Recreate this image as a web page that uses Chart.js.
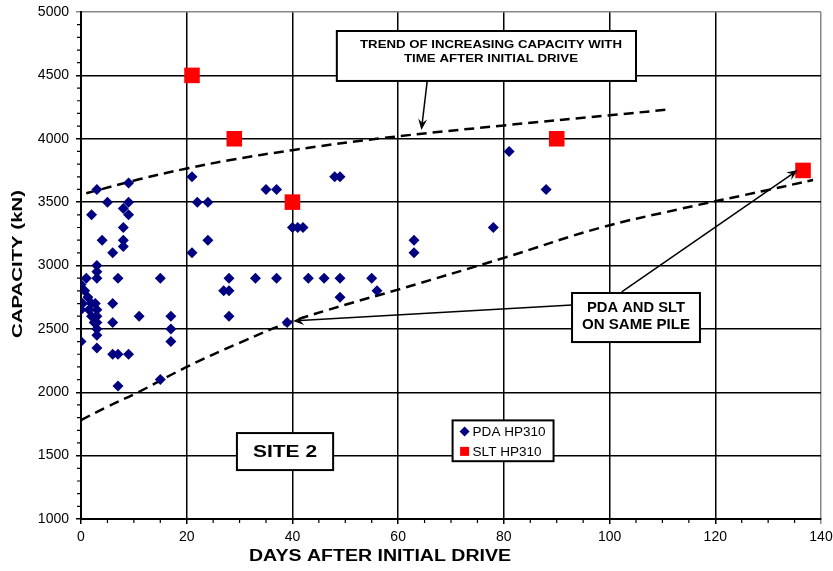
<!DOCTYPE html>
<html>
<head>
<meta charset="utf-8">
<script src="https://cdn.jsdelivr.net/npm/chart.js@4.4.0/dist/chart.umd.min.js"></script>
<style>
  html, body { margin: 0; padding: 0; background: #fff; }
</style>
</head>
<body>
<canvas id="capChart" width="833" height="571"></canvas>
<script>
// PDA HP310 points (days, kN)
const pdaDays = [0, 0, 0, 0.3, 0.7, 1, 1.3, 1.5, 2, 2, 2, 2.5, 2.7, 3, 3, 3, 3, 3, 3, 3, 3, 3, 3,
  4, 5, 6, 6, 6, 6, 7, 7, 7, 8, 8, 8, 8, 9, 9, 9, 9, 11, 15, 15, 17, 17, 17,
  21, 21, 22, 24, 24, 27, 28, 28, 28, 33, 35, 37, 37, 39, 40, 41, 42, 43, 46,
  48, 49, 49, 49, 55, 56, 63, 63, 78, 81, 88];
const pdaCapacity = [2400, 2650, 2850, 2700, 2800, 2900, 2750, 2650, 2700, 2600, 3400, 2550, 2700,
  2350, 2450, 2500, 2550, 2600, 2650, 2900, 2950, 3000, 3600,
  3200, 3500, 2300, 2550, 2700, 3100, 2050, 2300, 2900, 3150, 3200, 3300, 3450, 2300, 3400, 3500, 3650,
  2600, 2100, 2900, 2400, 2500, 2600,
  3100, 3700, 3500, 3200, 3500, 2800, 2600, 2800, 2900, 2900, 3600, 2900, 3600, 2550, 3300, 3300, 3300,
  2900, 2900, 3700, 2750, 2900, 3700, 2900, 2800, 3100, 3200, 3300, 3900, 3600];

// SLT HP310 points
const sltDays = [21, 29, 40, 90, 136.6];
const sltCapacity = [4500, 4000, 3500, 4000, 3750];

// dashed trend curves
const upperDays = [1, 11, 20, 28, 40, 57, 80, 100, 111];
const upperCapacity = [3570, 3680, 3765, 3830, 3910, 4005, 4105, 4185, 4230];
const lowerDays = [0, 4.5, 11, 20, 30, 39, 50, 60, 80, 98, 113, 130, 138.5];
const lowerCapacity = [1780, 1876, 2004, 2200, 2390, 2545, 2690, 2810, 3060, 3295, 3443, 3596, 3675];

const xTickValues = [0, 20, 40, 60, 80, 100, 120, 140];
const yTickValues = [1000, 1500, 2000, 2500, 3000, 3500, 4000, 4500, 5000];

const xTitle = 'DAYS AFTER INITIAL DRIVE';
const yTitle = 'CAPACITY (kN)';
const trendNote = ['TREND OF INCREASING CAPACITY WITH', 'TIME AFTER INITIAL DRIVE'];
const pileNote = ['PDA AND SLT', 'ON SAME PILE'];
const siteNote = 'SITE 2';
const legendLabels = ['PDA HP310', 'SLT HP310'];

const FONT = "'Liberation Sans', Arial, sans-serif";

function toXY(xs, ys) {
  return xs.map((d, i) => ({ x: d, y: ys[i] }));
}

// draws centred text stretched to a given width (the original's text is wide)
function wideText(ctx, text, cx, cy, font, width, rot) {
  ctx.save();
  ctx.font = font;
  ctx.fillStyle = '#000';
  ctx.textAlign = 'center';
  ctx.textBaseline = 'middle';
  const sx = width / ctx.measureText(text).width;
  ctx.translate(cx, cy);
  if (rot) ctx.rotate(rot);
  ctx.scale(sx, 1);
  ctx.fillText(text, 0, 0);
  ctx.restore();
}

const overlay = {
  id: 'overlay',
  afterDraw(chart) {
    const { ctx, scales: { x, y }, chartArea } = chart;
    const px = v => x.getPixelForValue(v);
    const py = v => y.getPixelForValue(v);

    ctx.save();
    // minor ticks
    ctx.strokeStyle = '#000';
    ctx.lineWidth = 1.2;
    ctx.beginPath();
    for (let d = 5; d < 140; d += 5) {
      if (d % 20 === 0) continue;
      ctx.moveTo(px(d), chartArea.bottom);
      ctx.lineTo(px(d), chartArea.bottom + 4);
    }
    for (let v = 1100; v < 5000; v += 100) {
      if (v % 500 === 0) continue;
      ctx.moveTo(chartArea.left - 4, py(v));
      ctx.lineTo(chartArea.left, py(v));
    }
    ctx.stroke();

    function arrow(x0, y0, x1, y1) {
      const a = px(x0), b = py(y0), c = px(x1), e = py(y1);
      const ang = Math.atan2(e - b, c - a);
      const cs = Math.cos(ang), sn = Math.sin(ang);
      ctx.strokeStyle = '#000';
      ctx.lineWidth = 1.5;
      ctx.beginPath();
      ctx.moveTo(a, b);
      ctx.lineTo(c - 7 * cs, e - 7 * sn);
      ctx.stroke();
      ctx.fillStyle = '#000';
      ctx.beginPath();
      ctx.moveTo(c, e);
      ctx.lineTo(c - 11 * cs + 4.5 * sn, e - 11 * sn - 4.5 * cs);
      ctx.lineTo(c - 7 * cs, e - 7 * sn);
      ctx.lineTo(c - 11 * cs - 4.5 * sn, e - 11 * sn + 4.5 * cs);
      ctx.closePath();
      ctx.fill();
    }

    function box(x0, y0, x1, y1) {
      const l = px(x0), t = py(y0), r = px(x1), b = py(y1);
      ctx.fillStyle = '#fff';
      ctx.fillRect(l, t, r - l, b - t);
      ctx.strokeStyle = '#000';
      ctx.lineWidth = 2;
      ctx.strokeRect(l, t, r - l, b - t);
      return { l, t, r, b };
    }

    arrow(65.5, 4456, 64.4, 4069);
    arrow(102.3, 2791, 135.6, 3753);
    arrow(92.9, 2688, 40.1, 2562);

    let bx = box(48.4, 4850, 105, 4456);
    wideText(ctx, trendNote[0], 491, bx.t + 14, 'bold 11.5px ' + FONT, 262);
    wideText(ctx, trendNote[1], 491, bx.t + 28, 'bold 11.5px ' + FONT, 174);

    bx = box(92.9, 2783, 117.1, 2396);
    wideText(ctx, pileNote[0], (bx.l + bx.r) / 2, bx.t + 15, 'bold 14px ' + FONT, 98);
    wideText(ctx, pileNote[1], (bx.l + bx.r) / 2, bx.t + 32, 'bold 14px ' + FONT, 108);

    bx = box(29.5, 1678, 47.7, 1386);
    wideText(ctx, siteNote, (bx.l + bx.r) / 2, (bx.t + bx.b) / 2 + 1, 'bold 17px ' + FONT, 64);

    // legend
    bx = box(70.3, 1778, 89.4, 1456);
    const lx = bx.l + 12;
    const ly1 = bx.t + 11, ly2 = bx.t + 31;
    ctx.fillStyle = '#000080';
    ctx.beginPath();
    ctx.moveTo(lx, ly1 - 5); ctx.lineTo(lx + 5, ly1); ctx.lineTo(lx, ly1 + 5); ctx.lineTo(lx - 5, ly1);
    ctx.closePath(); ctx.fill();
    ctx.fillStyle = '#ff0000';
    ctx.fillRect(lx - 4.5, ly2 - 4.5, 9, 9);
    wideText(ctx, legendLabels[0], lx + 8 + 36.5, ly1 + 1, '12px ' + FONT, 73);
    wideText(ctx, legendLabels[1], lx + 8 + 34.5, ly2 + 1, '12px ' + FONT, 69);

    // axis titles
    wideText(ctx, xTitle, 380, 557, 'bold 16px ' + FONT, 262);
    wideText(ctx, yTitle, 18, 264, 'bold 15px ' + FONT, 148, -Math.PI / 2);
    ctx.restore();
  }
};

const ctx = document.getElementById('capChart').getContext('2d');
const capChart = new Chart(ctx, {
  type: 'scatter',
  data: {
    datasets: [
      {
        label: 'upper trend',
        type: 'line',
        data: toXY(upperDays, upperCapacity),
        borderColor: '#000',
        borderWidth: 2.5,
        borderDash: [10, 6],
        pointRadius: 0,
        tension: 0.4,
        fill: false,
        order: 3
      },
      {
        label: 'lower trend',
        type: 'line',
        data: toXY(lowerDays, lowerCapacity),
        borderColor: '#000',
        borderWidth: 2.5,
        borderDash: [10, 6],
        pointRadius: 0,
        tension: 0.4,
        fill: false,
        order: 3
      },
      {
        label: legendLabels[0],
        data: toXY(pdaDays, pdaCapacity),
        pointStyle: 'rectRot',
        pointRadius: 5.5,
        pointHoverRadius: 5.5,
        backgroundColor: '#000080',
        borderColor: '#000080',
        borderWidth: 0,
        order: 2
      },
      {
        label: legendLabels[1],
        data: toXY(sltDays, sltCapacity),
        pointStyle: 'rect',
        pointRadius: 11,
        pointHoverRadius: 11,
        backgroundColor: '#ff0000',
        borderColor: '#ff0000',
        borderWidth: 0,
        order: 1
      }
    ]
  },
  options: {
    responsive: false,
    animation: false,
    devicePixelRatio: 1,
    layout: { padding: { top: 12, right: 12, left: 0, bottom: 0 } },
    plugins: {
      legend: { display: false },
      tooltip: { enabled: false }
    },
    scales: {
      x: {
        type: 'linear',
        min: 0,
        max: 140,
        afterBuildTicks: s => { s.ticks = xTickValues.map(v => ({ value: v })); },
        afterFit: s => { s.height = 52; s.paddingLeft = 0; s.paddingRight = 0; },
        grid: {
          color: c => (c.tick && c.tick.value === 140 ? '#888' : '#000'),
          lineWidth: 1.5,
          tickLength: 5
        },
        border: { color: '#000', width: 2 },
        ticks: {
          color: '#000', padding: 6, maxRotation: 0,
          font: { family: FONT, size: 14, lineHeight: 1 },
          callback: v => String(v)
        }
      },
      y: {
        type: 'linear',
        min: 1000,
        max: 5000,
        afterBuildTicks: s => { s.ticks = yTickValues.map(v => ({ value: v })); },
        afterFit: s => { s.width = 81; s.paddingTop = 0; s.paddingBottom = 0; },
        grid: {
          color: c => (c.tick && c.tick.value === 5000 ? '#888' : '#000'),
          lineWidth: 1.5,
          tickLength: 5
        },
        border: { color: '#000', width: 2 },
        ticks: {
          color: '#000', padding: 7,
          font: { family: FONT, size: 14, lineHeight: 1 },
          callback: v => String(v)
        }
      }
    }
  },
  plugins: [overlay]
});
</script>
</body>
</html>
